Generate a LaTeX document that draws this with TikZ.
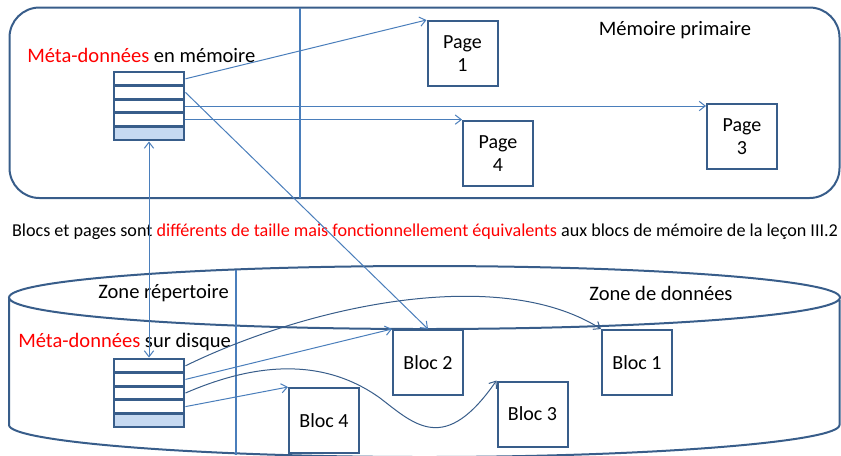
\documentclass[tikz,border=0pt]{standalone}
\usepackage{fontspec}
\setmainfont{Carlito}
\usetikzlibrary{arrows.meta}
\definecolor{outl}{HTML}{385D8A}
\definecolor{arr}{HTML}{4A7EBB}
\definecolor{lfill}{HTML}{C6D9F1}
\definecolor{myred}{HTML}{FF0000}
\begin{document}
\begin{tikzpicture}[x=0.75pt,y=-0.75pt,
  box/.style={draw=outl,line width=1.5pt,fill=white,minimum width=52.5pt,minimum height=48.75pt,inner sep=0pt,align=center,font=\fontsize{15pt}{17pt}\selectfont},
  row/.style={draw=outl,line width=2.2pt,fill=white,minimum width=52.5pt,minimum height=10.2pt,inner sep=0pt},
  lastrow/.style={row,fill=lfill},
  lbl/.style={inner sep=0pt,font=\fontsize{15.4pt}{17pt}\selectfont},
  conn/.style={draw=arr,line width=0.75pt,-{Straight Barb[length=4.5pt,width=7pt]}},
  curv/.style={draw=outl,line width=0.75pt,-{Straight Barb[length=4.5pt,width=7pt]}},
  divider/.style={draw=arr,line width=1.5pt},
  contour/.style={draw=outl,line width=1.5pt}
]
\path[use as bounding box] (0,0) rectangle (841,455);
% top memory area
\draw[contour,rounded corners=22.5pt] (9.5,7.5) rectangle (839.5,198);
\draw[divider] (300,7.5) -- (300,198);
\node[lbl,anchor=west] (lm) at (27,55) {\textcolor{myred}{Méta-données} en mémoire};
\node[lbl] (mp) at (675,30) {Mémoire primaire};
% top stack
\node[row] (r1t) at (149,78.8) {};
\node[row] (r2t) at (149,92.4) {};
\node[row] (r3t) at (149,106) {};
\node[row] (r4t) at (149,119.6) {};
\node[lastrow] (r5t) at (149,133.2) {};
% pages
\node[box] (p1) at (462.5,53.5) {Page\\1};
\node[box] (p4) at (498,153.5) {Page\\4};
\node[box] (p3) at (742,136.5) {Page\\3};
% middle text
\node[inner sep=0pt,font=\fontsize{13.6pt}{15pt}\selectfont] (mid) at (425,232) {Blocs et pages sont \textcolor{myred}{différents de taille mais fonctionnellement équivalents} aux blocs de mémoire de la leçon III.2};
% disk cylinder
\draw[contour] (424.5,297.5) ellipse [x radius=415.5,y radius=31.5];
\draw[contour] (9,297.5) -- (9,425) .. controls (9,441.6) and (195,457) .. (424.5,457) .. controls (654,457) and (839.5,441.6) .. (839.5,425) -- (839.5,300);
\draw[divider] (236,270) -- (236,455);
\node[lbl,anchor=east] (zr) at (229,293) {Zone répertoire};
\node[lbl] (zd) at (661,293) {Zone de données};
\node[lbl,anchor=west] (ld) at (18,342) {\textcolor{myred}{Méta-données} sur disque};
% bottom stack
\node[row] (r1b) at (149,365.8) {};
\node[row] (r2b) at (149,379.4) {};
\node[row] (r3b) at (149,393) {};
\node[row] (r4b) at (149,406.6) {};
\node[lastrow] (r5b) at (149,420.2) {};
% blocs
\node[box] (b2) at (428,362.5) {Bloc 2};
\node[box] (b1) at (637,362.5) {Bloc 1};
\node[box] (b3) at (532.5,414) {Bloc 3};
\node[box] (b4) at (324,420.5) {Bloc 4};
% connectors top
\draw[conn] (r1t.east) -- (p1.north west);
\draw[conn] (r3t.east) -- (r3t.east -| p3.west);
\draw[conn] (r4t.east) -- (r4t.east -| p4.west);
\draw[conn] (r2t.east) -- (b2.north);
\draw[draw=arr,line width=0.75pt,{Straight Barb[length=4.5pt,width=7pt]}-{Straight Barb[length=4.5pt,width=7pt]}] (r5t.south) -- (r1b.north);
% connectors bottom
\draw[conn] (r2b.east) -- (b2.north west);
\draw[conn] (r4b.east) -- (b4.north west);
\draw[curv] (r1b.east) .. controls (310,305) and (500,265) .. (b1.north west);
\draw[curv] (r3b.east) .. controls (250,365) and (320,355) .. (380,398) .. controls (415,425) and (445,455) .. (b3.north west);
\end{tikzpicture}
\end{document}
